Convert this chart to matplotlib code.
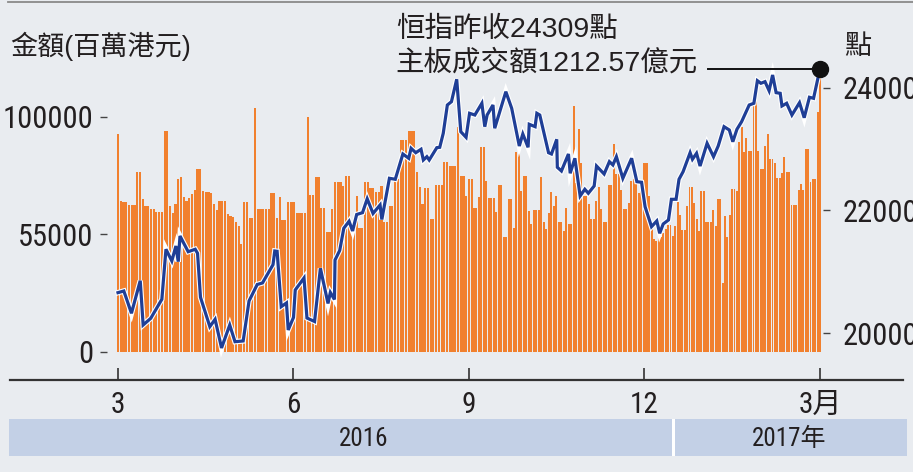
import numpy as np
import matplotlib
matplotlib.use("Agg")
import matplotlib.pyplot as plt
import matplotlib.patheffects as pe
from matplotlib import font_manager as fm
from matplotlib.patches import Rectangle
from matplotlib.lines import Line2D

# ---------------- data ----------------
# daily main-board turnover (thousand 百萬港元), four blocks of trading days
turnover_blk1 = [92.7, 64.2, 63.5, 63.5, 62.4, 62.4, 62.4, 76.4, 76.4, 65.0, 62.1, 62.1, 60.7, 60.7, 59.3,
                 59.3, 59.3, 94.1, 94.1, 62.1, 59.0, 62.8, 73.5, 74.2, 65.7, 64.2, 65.2, 67.1, 68.8, 77.8,
                 77.8, 68.2, 67.8, 67.8, 67.5, 62.8, 60.4, 64.2, 64.2, 64.2, 58.4, 57.8, 57.4, 55.0, 53.6,
                 45.7, 63.8, 63.8, 57.1, 57.1, 103.7, 60.7, 60.7, 60.7, 60.7, 60.7, 67.5, 67.5, 57.1, 65.7,
                 56.0, 56.0, 63.5, 63.5, 63.5]
turnover_blk2 = [59.0, 59.0, 59.0, 59.0, 99.9, 66.7, 66.7, 74.2, 74.2, 61.0, 61.0, 51.0, 51.0, 60.7, 72.1,
                 72.1, 72.1, 70.4, 74.9, 74.9, 52.8, 52.8, 66.4, 52.8, 52.8, 72.4, 72.4, 69.5, 69.5, 67.8,
                 67.8, 70.4, 55.0, 55.0, 62.1, 62.1, 73.5, 73.5, 89.9, 89.9, 89.9, 93.7, 93.7, 93.7, 76.4,
                 70.0, 62.8, 69.5, 69.5, 56.4, 56.4, 70.9, 70.9, 70.9, 80.6, 80.6, 78.9, 78.9, 78.9, 95.6,
                 74.6, 74.6, 66.1, 73.5, 73.5]
turnover_blk3 = [61.0, 61.0, 65.7, 87.0, 87.0, 72.8, 65.2, 65.2, 65.2, 59.3, 70.9, 70.9, 49.0, 49.0, 65.0,
                 65.0, 52.8, 84.9, 84.9, 68.4, 74.6, 74.6, 60.0, 54.3, 60.3, 60.3, 60.3, 74.2, 55.3, 52.4,
                 59.0, 67.8, 62.1, 66.1, 55.0, 55.0, 51.4, 61.0, 54.3, 54.3, 104.6, 71.8, 94.6, 80.3, 66.4,
                 66.4, 62.8, 56.4, 56.4, 64.2, 70.0, 60.7, 55.0, 55.0, 70.9, 70.9, 88.5, 75.6, 75.6, 68.9,
                 60.7, 60.7, 63.2, 72.8, 73.5, 71.4, 67.5, 72.1, 80.3, 80.3, 66.1, 52.1]
turnover_blk4 = [47.9, 47.1, 49.3, 49.0, 50.7, 52.1, 53.8, 53.8, 49.3, 53.3, 63.5, 58.1, 51.8, 51.8, 62.1,
                 70.0, 70.0, 63.2, 56.4, 51.4, 68.2, 68.2, 55.4, 55.4, 55.4, 60.4, 53.6, 65.0, 65.0, 29.1,
                 57.6, 48.6, 58.1, 69.2, 69.2, 68.5, 89.2, 95.6, 84.9, 90.9, 85.2, 85.2, 105.6, 107.7, 85.6,
                 77.8, 77.8, 87.5, 92.7, 82.1, 82.1, 80.3, 73.8, 73.8, 76.1, 82.8, 76.6, 76.6, 62.5, 62.5,
                 62.5, 68.9, 71.4, 68.9, 86.3, 86.3, 72.1, 73.5, 73.5, 102.0, 121.257]
# first / last trading day of each block, in months after 1 March 2016
block_span = [(0.0, 3.0), (3.055, 6.046), (6.08, 9.12), (9.16, 12.0)]

# Hang Seng Index (points), month position after 1 March 2016
hsi_month = [0.00, 0.10, 0.23, 0.38, 0.43, 0.56, 0.75, 0.82, 0.92, 0.99,
             1.03, 1.06, 1.20, 1.32, 1.36, 1.41, 1.57, 1.66, 1.77, 1.91,
             2.00, 2.14, 2.24, 2.38, 2.47, 2.65, 2.68, 2.72, 2.79, 2.88,
             2.91, 3.00, 3.03, 3.18, 3.23, 3.36, 3.46, 3.59, 3.63, 3.70,
             3.71, 3.79, 3.86, 3.95, 4.01, 4.08, 4.18, 4.26, 4.36, 4.48,
             4.51, 4.64, 4.74, 4.87, 4.97, 5.01, 5.09, 5.18, 5.22, 5.28,
             5.32, 5.45, 5.50, 5.56, 5.63, 5.70, 5.79, 5.86, 5.95, 6.01,
             6.10, 6.22, 6.27, 6.31, 6.41, 6.44, 6.63, 6.73, 6.86, 6.92,
             7.01, 7.03, 7.13, 7.16, 7.21, 7.36, 7.41, 7.50, 7.51, 7.58,
             7.70, 7.73, 7.81, 7.90, 7.98, 8.04, 8.14, 8.18, 8.31, 8.40,
             8.46, 8.52, 8.63, 8.78, 8.87, 8.95, 9.01, 9.12, 9.21, 9.26,
             9.32, 9.41, 9.46, 9.54, 9.59, 9.66, 9.78, 9.82, 9.89, 9.95,
             10.07, 10.18, 10.26, 10.36, 10.45, 10.51, 10.58, 10.66, 10.79, 10.87,
             10.93, 10.99, 11.06, 11.13, 11.19, 11.25, 11.32, 11.35, 11.43, 11.52,
             11.65, 11.73, 11.82, 11.89, 12.00]
hsi_value = [20661, 20688, 20325, 20856, 20134, 20243, 20553, 21368, 21177, 21421,
             21166, 21584, 21328, 21368, 21302, 20586, 20107, 20227, 19760, 20134,
             19862, 19874, 20525, 20794, 20819, 21117, 21340, 21335, 20432, 20493,
             20053, 20257, 20705, 20900, 20248, 20191, 21058, 20485, 20664, 20550,
             21193, 21348, 21710, 21824, 21666, 21934, 21964, 22190, 21951, 22089,
             21853, 22524, 22508, 22920, 22850, 23013, 22941, 22997, 22822, 22876,
             22822, 23023, 23029, 23257, 23718, 23772, 24137, 23283, 23192, 23583,
             23555, 23746, 23365, 23555, 23718, 23339, 23935, 23664, 23050, 23246,
             23029, 23404, 23365, 23583, 23555, 22941, 22920, 23159, 22703, 22643,
             22920, 22606, 22850, 22236, 22345, 22280, 22399, 22724, 22594, 22795,
             22741, 22876, 22524, 22850, 22469, 22459, 22061, 21736, 21829, 21628,
             21780, 21845, 22182, 22182, 22508, 22632, 22941, 22834, 22931, 22724,
             23094, 22876, 23050, 23365, 23311, 23120, 23322, 23446, 23718, 23746,
             24114, 24072, 24098, 23951, 24207, 23919, 23909, 23702, 23746, 23555,
             23756, 23511, 23844, 23827, 24309]

x_tick_pos = [0, 3, 6, 9, 12]
x_tick_labels = ["3", "6", "9", "12", "3月"]
left_tick_pos = [0, 50000, 100000]
left_tick_labels = ["0", "55000", "100000"]
right_ticks = [20000, 22000, 24000]

title_left = "金額(百萬港元)"
title_right = "點"
note_line1 = "恒指昨收24309點"
note_line2 = "主板成交額1212.57億元"
year_labels = ["2016", "2017年"]

# ---------------- style ----------------
BG = "#e9ecf0"
ORANGE = "#f1802e"
NAVY = "#1f3e96"
TXT = "#231f20"
BAND = "#c3d0e6"
CJK = "Noto Sans CJK TC"


def find_condensed():
    order = ["Liberation Sans Narrow", "Roboto Condensed", "Noto Sans", "Open Sans",
             "DejaVu Sans", "Arimo", "Noto Sans Condensed"]
    found = []
    for f in fm.fontManager.ttflist:
        st = f.stretch
        cond = ("Narrow" in f.name) or ("Condensed" in f.name)
        if isinstance(st, str):
            cond = cond or st in ("condensed", "semi-condensed", "extra-condensed")
        elif isinstance(st, (int, float)):
            cond = cond or st < 500
        if cond and f.style == "normal" and f.weight in (400, "normal", "regular", "book"):
            found.append(f)
    if not found:
        return None
    def rank(f):
        return order.index(f.name) if f.name in order else len(order)
    found.sort(key=rank)
    return found[0]


cf = find_condensed()
if cf is not None:
    NUM_FAMILY = [cf.name, CJK, "DejaVu Sans"]
    NUM_STRETCH = cf.stretch
    TICK_SIZE_Y, TICK_SIZE_X, BAND_SIZE = 22, 21, 18
else:
    NUM_FAMILY = ["Liberation Sans", CJK, "DejaVu Sans"]
    NUM_STRETCH = "normal"
    TICK_SIZE_Y, TICK_SIZE_X, BAND_SIZE = 18.5, 18, 15.5

plt.rcParams["font.family"] = NUM_FAMILY
plt.rcParams["font.stretch"] = NUM_STRETCH
reg_fam = ["Liberation Sans", CJK, "DejaVu Sans"]

W, H = 913, 472
fig = plt.figure(figsize=(W / 100, H / 100), dpi=100, facecolor=BG)


def fx(x):
    return x / W


def fy(y):
    return 1 - y / H


ax = fig.add_axes([fx(10), fy(380), fx(903) - fx(10), fy(2) - fy(380)])
ax.set_facecolor("none")
ax.set_xlim(-1.846, 13.419)
ax.set_ylim(-12040, 148800)

# bars
blocks = [turnover_blk1, turnover_blk2, turnover_blk3, turnover_blk4]
for vals, (a, b) in zip(blocks, block_span):
    vals = np.asarray(vals) * 1000.0
    xs = np.linspace(a, b, len(vals))
    w = 0.8 * (b - a) / (len(vals) - 1)
    ax.bar(xs, vals, width=w, color=ORANGE, edgecolor="none", zorder=2)

for s in ["top", "right"]:
    ax.spines[s].set_visible(False)
ax.spines["left"].set_position(("data", -0.19))
ax.spines["left"].set_color("none")
ax.spines["bottom"].set_color("#333333")
ax.spines["bottom"].set_linewidth(1.6)

ax.set_yticks(left_tick_pos)
ax.set_yticklabels(left_tick_labels)
ax.tick_params(axis="y", direction="out", length=5, width=1, color="#444444",
               pad=5, labelsize=TICK_SIZE_Y, labelcolor=TXT)
ax.set_xticks(x_tick_pos)
ax.set_xticklabels(x_tick_labels)
ax.tick_params(axis="x", direction="in", length=9, width=1.2, color="#333333",
               pad=8, labelsize=TICK_SIZE_X, labelcolor=TXT)

# line on right axis
ax2 = ax.twinx()
ax2.set_ylim(19238, 25396)
for s in ["top", "left", "bottom"]:
    ax2.spines[s].set_visible(False)
ax2.spines["right"].set_position(("data", 12.05))
ax2.spines["right"].set_color("none")
ax2.set_yticks(right_ticks)
ax2.tick_params(axis="y", direction="out", length=5, width=1, color="#444444",
                pad=9, labelsize=TICK_SIZE_Y, labelcolor=TXT)

ax2.plot(hsi_month, hsi_value, color=NAVY, lw=2.3, solid_joinstyle="miter", zorder=3,
         path_effects=[pe.Stroke(linewidth=3.9, foreground="white"), pe.Normal()])

# marker + connector for latest close
ax2.plot([10.09, hsi_month[-1]], [hsi_value[-1], hsi_value[-1]], color="#111111", lw=1.4, zorder=4)
ax2.plot([hsi_month[-1]], [hsi_value[-1]], "o", ms=11.5, color="#111111", zorder=5)

# texts
fig.text(fx(10), fy(46), title_left, fontsize=19.5, color=TXT, va="center", ha="left",
         family=reg_fam, stretch="normal")
fig.text(fx(844), fy(47), title_right, fontsize=19.5, color=TXT, va="center", ha="left",
         family=reg_fam, stretch="normal")
fig.text(fx(396), fy(30), note_line1, fontsize=20.5, color=TXT, va="center", ha="left",
         family=reg_fam, stretch="normal")
fig.text(fx(395), fy(63), note_line2, fontsize=20.5, color=TXT, va="center", ha="left",
         family=reg_fam, stretch="normal")

# top rule
fig.add_artist(Line2D([fx(8), 1.0], [fy(2), fy(2)], color="#8a8a8a", lw=1.3))

# year band
fig.add_artist(Rectangle((fx(9), fy(456)), fx(907) - fx(9), fy(419) - fy(456),
                         transform=fig.transFigure, color=BAND, lw=0))
fig.add_artist(Rectangle((fx(671.5), fy(456)), fx(3), fy(419) - fy(456),
                         transform=fig.transFigure, color="white", lw=0))
fig.text(fx(364), fy(439), year_labels[0], fontsize=BAND_SIZE, color=TXT, ha="center", va="center")
fig.text(fx(789), fy(439), year_labels[1], fontsize=BAND_SIZE, color=TXT, ha="center", va="center")

fig.savefig("out.png", dpi=100, facecolor=BG)
